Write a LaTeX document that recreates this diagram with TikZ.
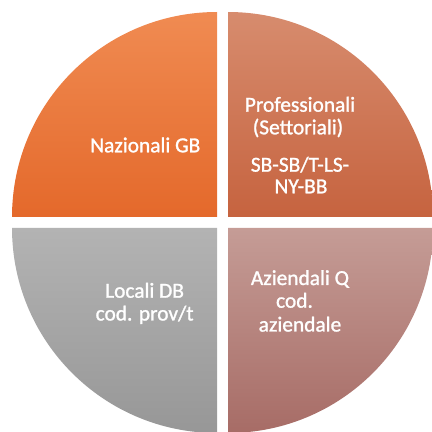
\documentclass[tikz,border=0pt]{standalone}
\usepackage{fontspec}
\setmainfont{Carlito}
\newfontfamily\lblfont{Carlito}[FakeBold=1.2]
\definecolor{tlTop}{HTML}{F08B52}
\definecolor{tlBot}{HTML}{E4692B}
\definecolor{trTop}{HTML}{D78C6E}
\definecolor{trBot}{HTML}{C6633F}
\definecolor{blTop}{HTML}{B3B3B3}
\definecolor{blBot}{HTML}{979797}
\definecolor{brTop}{HTML}{C59C96}
\definecolor{brBot}{HTML}{A76C66}
\tikzset{
  lbl/.style={text=white, anchor=base, inner sep=0pt, font=\lblfont\fontsize{21.4}{23}\selectfont}
}
\begin{document}
\begin{tikzpicture}[x=1pt,y=1pt]
\useasboundingbox (0,0) rectangle (432,432);
\clip (0,0) rectangle (432,432);
% quarters (image y -> 432-y)
\shade[top color=tlTop, bottom color=tlBot] (217,215) -- (12,215) arc[start angle=180,end angle=90,radius=205] -- cycle;
\shade[top color=trTop, bottom color=trBot] (228,215) -- (228,420) arc[start angle=90,end angle=0,radius=205] -- cycle;
\shade[top color=blTop, bottom color=blBot] (217,204) -- (12,204) arc[start angle=180,end angle=270,radius=205] -- cycle;
\shade[top color=brTop, bottom color=brBot] (228,204) -- (433,204) arc[start angle=0,end angle=-90,radius=205] -- cycle;
% labels
\node[lbl] (naz) at (145.3,279.7) {Nazionali GB};
\node[lbl] (pro1) at (300,320.3) {Professionali};
\node[lbl] (pro2) at (298,297.7) {(Settoriali)};
\node[lbl] (pro3) at (300,260.3) {SB-SB/T-LS-};
\node[lbl] (pro4) at (301,238.7) {NY-BB};
\node[lbl] (loc1) at (144.6,134.3) {Locali DB};
\node[lbl] (loc2) at (144.6,111.5) {cod. prov/t};
\node[lbl] (az1) at (300,147) {Aziendali Q};
\node[lbl] (az2) at (294.5,124.3) {cod.};
\node[lbl] (az3) at (300,100.5) {aziendale};
\end{tikzpicture}
\end{document}
